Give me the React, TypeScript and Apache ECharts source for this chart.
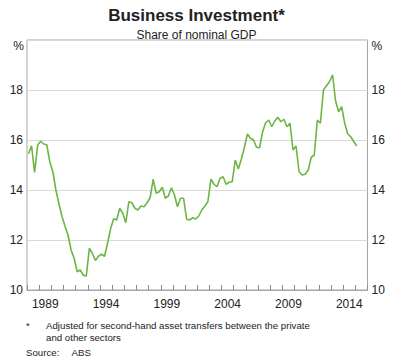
import React, { useEffect, useRef } from "react";
import * as echarts from "echarts";

const startYear = 1988;
const endYear = 2016;
const years: number[] = [];
for (let y = startYear; y < endYear; y++) years.push(y);
const labelYears = [1989, 1994, 1999, 2004, 2009, 2014];

// Business investment, share of nominal GDP (%), quarterly from 1988 Q1 to 2015 Q1
const firstQuarter = { year: 1988, q: 1 };
const investment = [
  15.45, 15.77, 14.7, 15.8, 15.95, 15.84, 15.81, 15.13,
  14.73, 14.0, 13.45, 12.95, 12.55, 12.2, 11.6, 11.27,
  10.73, 10.8, 10.6, 10.55, 11.67, 11.47, 11.18, 11.35,
  11.43, 11.35, 11.87, 12.45, 12.85, 12.8, 13.27, 13.07,
  12.69, 13.53, 13.49, 13.27, 13.2, 13.36, 13.33, 13.49,
  13.69, 14.43, 13.87, 13.93, 14.11, 13.67, 13.76, 14.09,
  13.8, 13.33, 13.67, 13.67, 12.83, 12.8, 12.89, 12.84,
  12.96, 13.2, 13.36, 13.53, 14.44, 14.23, 14.13, 14.47,
  14.53, 14.23, 14.31, 14.33, 15.2, 14.84, 15.23, 15.7,
  16.24, 16.07, 16.0, 15.71, 15.69, 16.33, 16.69, 16.8,
  16.53, 16.76, 16.91, 16.73, 16.83, 16.53, 16.67, 15.6,
  15.76, 14.73, 14.6, 14.63, 14.8, 15.31, 15.4, 16.8,
  16.67, 18.0, 18.17, 18.33, 18.61, 17.56, 17.13, 17.33,
  16.67, 16.24, 16.13, 15.93, 15.76,
];

const yMin = 10;
const yMax = 20;
const yStep = 2;

const FONT = 'Arial, "Liberation Sans", sans-serif';
const TEXT = "#222";
const GREEN = "#6db544";
const BORDER = "#a6a6a6";
const GRID = "#d9d9d9";

export default function App() {
  const ref = useRef<HTMLDivElement>(null);
  useEffect(() => {
    document.body.style.margin = "0";
    if (!ref.current) return;
    const chart = echarts.init(ref.current, undefined, { renderer: "svg" });
    const seriesData = investment.map((v, i) => {
      const qIndex = firstQuarter.q - 1 + i;
      const x = firstQuarter.year + qIndex / 4 + 0.125;
      return [x, v];
    });
    const left = 27;
    const right = 367.5;
    const top = 40;
    const bottom = 290;
    const noteFont = `9.7px ${FONT}`;
    chart.setOption({
      animation: false,
      textStyle: { fontFamily: FONT, color: TEXT },
      title: [
        {
          text: "Business Investment*",
          left: "center",
          top: 2,
          textStyle: { fontSize: 17, fontWeight: "bold", color: TEXT, fontFamily: FONT },
        },
        {
          text: "Share of nominal GDP",
          left: "center",
          top: 24,
          textStyle: { fontSize: 12, fontWeight: "normal", color: TEXT, fontFamily: FONT },
        },
      ],
      grid: {
        left,
        top,
        width: right - left,
        height: bottom - top,
        show: true,
        borderColor: BORDER,
        borderWidth: 1,
        containLabel: false,
      },
      xAxis: [
        {
          type: "category",
          data: years.map(String),
          boundaryGap: true,
          axisLine: { show: true, lineStyle: { color: BORDER } },
          axisTick: {
            show: true,
            inside: true,
            length: 5,
            interval: 0,
            alignWithLabel: false,
            lineStyle: { color: "#8c8c8c" },
          },
          axisLabel: {
            interval: (_i: number, v: string) => labelYears.includes(Number(v)),
            fontSize: 12,
            color: TEXT,
            fontFamily: FONT,
            margin: 8,
          },
          splitLine: { show: false },
        },
        {
          type: "value",
          min: startYear,
          max: endYear,
          show: false,
        },
      ],
      yAxis: [
        {
          type: "value",
          position: "left",
          min: yMin,
          max: yMax,
          interval: yStep,
          axisLine: { show: false },
          axisTick: { show: false },
          splitLine: { show: true, lineStyle: { color: GRID, width: 1 } },
          axisLabel: {
            fontSize: 12,
            color: TEXT,
            fontFamily: FONT,
            margin: 4,
            formatter: (v: number) => (v === yMax ? "" : String(v)),
          },
        },
        {
          type: "value",
          position: "right",
          min: yMin,
          max: yMax,
          interval: yStep,
          axisLine: { show: false },
          axisTick: { show: false },
          splitLine: { show: false },
          axisLabel: {
            fontSize: 12,
            color: TEXT,
            fontFamily: FONT,
            margin: 4,
            formatter: (v: number) => (v === yMax ? "" : String(v)),
          },
        },
      ],
      series: [
        {
          type: "line",
          xAxisIndex: 1,
          yAxisIndex: 0,
          data: seriesData,
          showSymbol: false,
          symbol: "none",
          lineStyle: { color: GREEN, width: 1.6 },
        },
      ],
      graphic: [
        {
          type: "text",
          x: left - 3,
          y: 46,
          style: { text: "%", fill: TEXT, font: `12px ${FONT}`, align: "right", verticalAlign: "middle" },
        },
        {
          type: "text",
          x: right + 4,
          y: 46,
          style: { text: "%", fill: TEXT, font: `12px ${FONT}`, align: "left", verticalAlign: "middle" },
        },
        {
          type: "text",
          x: 26,
          y: 325,
          style: { text: "*", fill: TEXT, font: noteFont, align: "left", verticalAlign: "middle" },
        },
        {
          type: "text",
          x: 46,
          y: 325,
          style: {
            text: "Adjusted for second-hand asset transfers between the private",
            fill: TEXT,
            font: noteFont,
            align: "left",
            verticalAlign: "middle",
          },
        },
        {
          type: "text",
          x: 46,
          y: 337.5,
          style: { text: "and other sectors", fill: TEXT, font: noteFont, align: "left", verticalAlign: "middle" },
        },
        {
          type: "text",
          x: 26,
          y: 352,
          style: { text: "Source:", fill: TEXT, font: noteFont, align: "left", verticalAlign: "middle" },
        },
        {
          type: "text",
          x: 71.5,
          y: 352,
          style: { text: "ABS", fill: TEXT, font: noteFont, align: "left", verticalAlign: "middle" },
        },
      ],
    });
    return () => chart.dispose();
  }, []);
  return <div ref={ref} style={{ width: 393, height: 359 }} />;
}
